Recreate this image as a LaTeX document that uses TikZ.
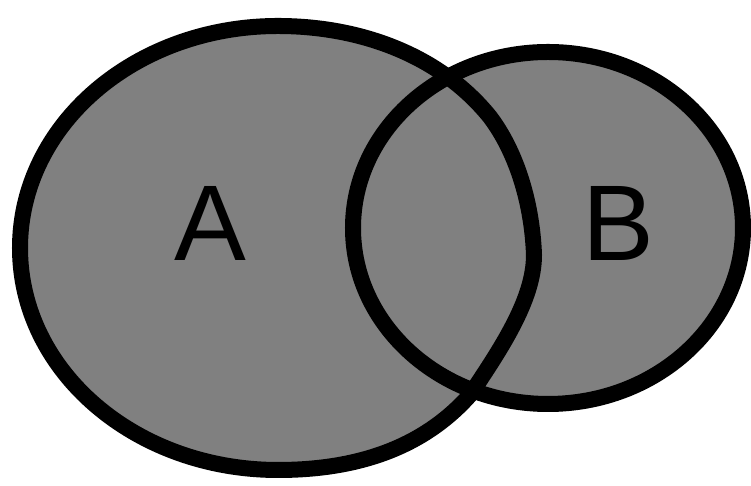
\documentclass[tikz,border=0pt]{standalone}
\usepackage{fontspec}
\setmainfont{Liberation Sans}
\definecolor{setgray}{HTML}{808080}
\tikzset{
  setfill/.style={fill=setgray},
  setline/.style={draw=black, line width=0.16cm, line join=round},
  setlabel/.style={font=\fontsize{30.6}{36}\selectfont, inner sep=0pt}
}
\begin{document}
\begin{tikzpicture}[x=0.01cm, y=-0.01cm]
\useasboundingbox (0,0) rectangle (751,486);
% outlines of the two sets
\path[save path=\shapeA] (534,255) .. controls (532,200) and (515,150) .. (490,117)
  .. controls (440,55) and (360,26) .. (278,26)
  .. controls (135,26) and (20,125) .. (20,248)
  .. controls (20,371) and (135,470) .. (278,470)
  .. controls (370,470) and (430,440) .. (470,395)
  .. controls (500,350) and (534,300) .. (534,255) -- cycle;
\path[save path=\shapeB] (548,228) ellipse [x radius=195, y radius=176];
% fills first, then both borders
\fill[setfill, use path=\shapeA];
\fill[setfill, use path=\shapeB];
\draw[setline, use path=\shapeA];
\draw[setline, use path=\shapeB];
\node[setlabel] (labelA) at (210,223) {A};
\node[setlabel] (labelB) at (618,223) {B};
\end{tikzpicture}
\end{document}
